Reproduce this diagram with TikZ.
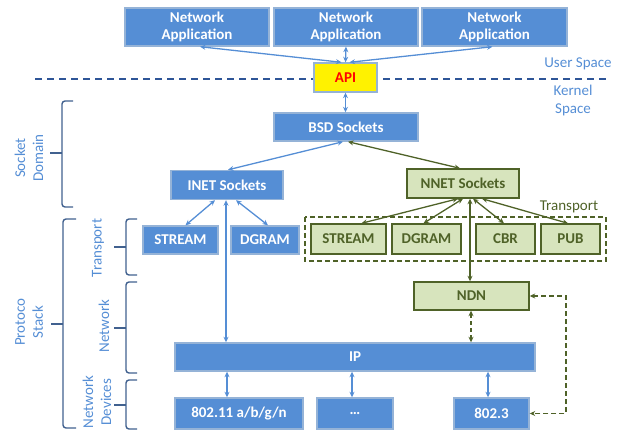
\documentclass[tikz,border=0pt]{standalone}
\usepackage{fontspec}
\setmainfont{Carlito}
\usetikzlibrary{arrows.meta}
\definecolor{bfill}{HTML}{558ED5}
\definecolor{bline}{HTML}{95B3D7}
\definecolor{barr}{HTML}{558ED5}
\definecolor{gfill}{HTML}{D7E4BD}
\definecolor{gline}{HTML}{4F6228}
\definecolor{lbl}{HTML}{558ED5}
\definecolor{brc}{HTML}{41618F}
\definecolor{sep}{HTML}{2E5597}
\tikzset{
  bbox/.style={rectangle, draw=bline, fill=bfill, line width=1.4pt, text=white, inner sep=0pt, align=center, font=\fontsize{15}{17}\selectfont\bfseries},
  gbox/.style={rectangle, draw=gline, fill=gfill, line width=1.4pt, text=gline, inner sep=0pt, align=center, font=\fontsize{15}{17}\selectfont\bfseries},
  barrow/.style={draw=barr, line width=1.3pt, {Stealth[length=5.5pt,width=5pt]}-{Stealth[length=5.5pt,width=5pt]}},
  garrow/.style={draw=gline, line width=1.3pt, {Stealth[length=5.5pt,width=5pt]}-{Stealth[length=5.5pt,width=5pt]}},
  gdash/.style={garrow, dash pattern=on 4pt off 3pt},
  lab/.style={text=lbl, align=center, inner sep=0pt, font=\fontsize{15}{18}\selectfont},
  brace/.style={draw=brc, line width=1.4pt, rounded corners=3pt},
}
\newcommand{\mybrace}[5]{% vx, tipx, ytop, ybot, ymid ; point x = vx-12
  \draw[brace] (#2,#3) -- (#1,#3) -- (#1,#4) -- (#2,#4);
  \draw[draw=brc, line width=1.4pt] (#1-12,#5) -- (#1,#5);
}
\begin{document}
\begin{tikzpicture}[x=1pt,y=-1pt]
\useasboundingbox (0,0) rectangle (619,430);

% separator
\coordinate (sepL) at (35,79);
\coordinate (sepR) at (610,79);
\draw[sep, line width=1.3pt, dash pattern=on 7pt off 5pt] (sepL) -- (sepR);

% transport dashed group
\draw[gline, line width=1.8pt, dash pattern=on 5pt off 3pt] (305,217) rectangle (606,261);
\node[text=gline, inner sep=0pt, font=\fontsize{15}{17}\selectfont] (trlab) at (569,207) {Transport};

% boxes
\node[bbox, minimum width=144, minimum height=38] (app1) at (197,27) {Network\\Application};
\node[bbox, minimum width=144, minimum height=38] (app2) at (346,27) {Network\\Application};
\node[bbox, minimum width=145, minimum height=38] (app3) at (494.5,27) {Network\\Application};
\node[bbox, fill=yellow, text=red, minimum width=63, minimum height=29] (api) at (345.5,77.5) {API};
\node[bbox, minimum width=144, minimum height=28] (bsd) at (346,127) {BSD Sockets};
\node[bbox, minimum width=112, minimum height=29] (inet) at (227,185) {INET Sockets};
\node[gbox, minimum width=112, minimum height=29] (nnet) at (463,183.5) {NNET Sockets};
\node[bbox, minimum width=75, minimum height=28] (stream) at (180.5,240) {STREAM};
\node[bbox, minimum width=68, minimum height=28] (dgram) at (265,240) {DGRAM};
\node[gbox, minimum width=75, minimum height=30] (gstream) at (348.5,239) {STREAM};
\node[gbox, minimum width=69, minimum height=30] (gdgram) at (426.5,239) {DGRAM};
\node[gbox, minimum width=59, minimum height=30] (cbr) at (505.5,239) {CBR};
\node[gbox, minimum width=59, minimum height=30] (pub) at (570.5,239) {PUB};
\node[gbox, minimum width=115, minimum height=28] (ndn) at (471.5,296) {NDN};
\node[bbox, minimum width=360, minimum height=28] (ip) at (355,357) {IP};
\node[bbox, minimum width=128, minimum height=31] (d11) at (239,413.5) {802.11 a/b/g/n};
\node[bbox, minimum width=76, minimum height=31] (dots) at (355,413.5) {\dots};
\node[bbox, minimum width=75, minimum height=31] (d3) at (491.5,413.5) {802.3};

% blue connectors
\draw[barrow] ([xshift=3]app1.south) -- ([xshift=-4]api.north);
\draw[barrow] (app2.south) -- (api.north);
\draw[barrow] ([xshift=-2]app3.south) -- ([xshift=4]api.north);
\draw[barrow] (api.south) -- (api.south |- bsd.north);
\draw[barrow] ([xshift=-3]bsd.south) -- ([xshift=1]inet.north);
\draw[barrow] ([xshift=-12]inet.south) -- ([xshift=5]stream.north);
\draw[barrow] ([xshift=9]inet.south) -- ([xshift=3]dgram.north);
\draw[barrow] ([xshift=-1]inet.south) -- ([xshift=-1]inet.south |- ip.north);
\draw[barrow] ([xshift=-12]d11.north) -- ([xshift=-12]d11.north |- ip.south);
\draw[barrow] ([xshift=-3]dots.north) -- ([xshift=-3]dots.north |- ip.south);
\draw[barrow] ([xshift=-3.5]d3.north) -- ([xshift=-3.5]d3.north |- ip.south);

% green connectors
\draw[garrow] ([xshift=2]bsd.south) -- ([xshift=-3]nnet.north);
\draw[garrow] ([xshift=-5]nnet.south) -- ([xshift=13]gstream.north);
\draw[garrow] (nnet.south) -- ([xshift=-3]gdgram.north);
\draw[garrow] ([xshift=7]nnet.south) -- ([xshift=-1.5]ndn.north);
\draw[garrow] ([xshift=10]nnet.south) -- ([xshift=-1.5]cbr.north);
\draw[garrow] ([xshift=19]nnet.south) -- ([xshift=-2.5]pub.north);
\draw[gdash] ([xshift=-0.5]ndn.south) -- ([xshift=-0.5]ndn.south |- ip.north);
\coordinate (loopx) at (566,0);
\draw[gdash, line width=1.8pt, dash pattern=on 5pt off 3pt] (ndn.east) -- (ndn.east -| loopx) -- (loopx |- d3.east) -- (d3.east);

% labels
\node[lab] (us) at (578,64) {User Space};
\node[lab] (ks) at (573,101) {Kernel\\Space};
\node[lab, rotate=90] (sd) at (29,158) {Socket\\Domain};
\node[lab, rotate=90] (ps) at (29,322) {Protoco\\Stack};
\node[lab, rotate=90] (tr) at (98,248) {Transport};
\node[lab, rotate=90] (nw) at (104,326) {Network};
\node[lab, rotate=90] (nd) at (97,402) {Network\\Devices};

% braces
\mybrace{62}{73}{101}{207}{153}
\mybrace{63}{76}{219}{428}{324}
\mybrace{126}{137}{219}{275}{247}
\mybrace{126}{137}{282}{373}{328}
\mybrace{126}{137}{380}{429}{405}
\end{tikzpicture}
\end{document}
